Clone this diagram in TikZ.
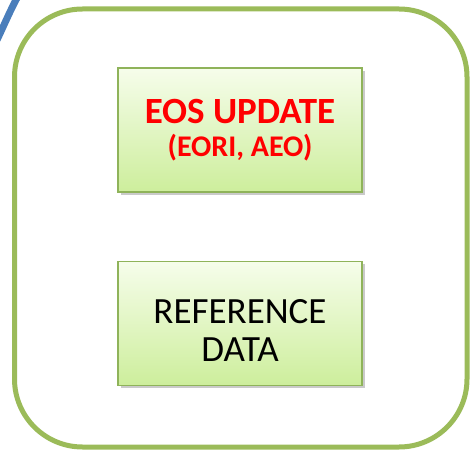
\documentclass[tikz,border=0pt]{standalone}
\usepackage{fontspec}
\setmainfont{Carlito}
\usetikzlibrary{positioning,shadows}

\definecolor{frameGreen}{HTML}{9BBB59}
\definecolor{boxGreen}{HTML}{8FB35A}
\definecolor{fillTop}{HTML}{F6FDEB}
\definecolor{fillBottom}{HTML}{CDEE9C}
\definecolor{arcBlue}{HTML}{4A7EBB}
\definecolor{eosRed}{HTML}{FF0000}

\begin{document}
\begin{tikzpicture}%
		[x=1pt, y=-1pt,
		node distance=68pt,
		every node/.style={font=\fontsize{37}{39}\selectfont}
		]
		\tikzstyle{box}=[draw=boxGreen, line width=1.2pt, top color=fillTop, bottom color=fillBottom,
		minimum width=244pt, minimum height=124pt, inner sep=0pt, align=center,
		drop shadow={shadow xshift=3pt, shadow yshift=-3pt, opacity=0.35, fill=black!60}]
		\useasboundingbox (0,0) rectangle (471,454);
		\clip (0,0) rectangle (471,454);
		% blue arc from the neighbouring shape
		\draw[arcBlue, line width=7pt] (-3,40) .. controls (5,23) and (10,11) .. (17,-2);
		% outer frame
		\draw[frameGreen, line width=5pt, rounded corners=68pt] (14.5,9) rectangle (467,447);
		
		\node[box] (eos) at (240,130) {\bfseries\textcolor{eosRed}{EOS UPDATE}\\[-6pt]
			{\fontsize{30}{32}\selectfont\bfseries\textcolor{eosRed}{(EORI, AEO)}}};
		\node[box, font=\fontsize{37}{38}\selectfont, text height=76pt] (refdata) [below=of eos] {REFERENCE\\DATA};
		\end{tikzpicture}
\end{document}
